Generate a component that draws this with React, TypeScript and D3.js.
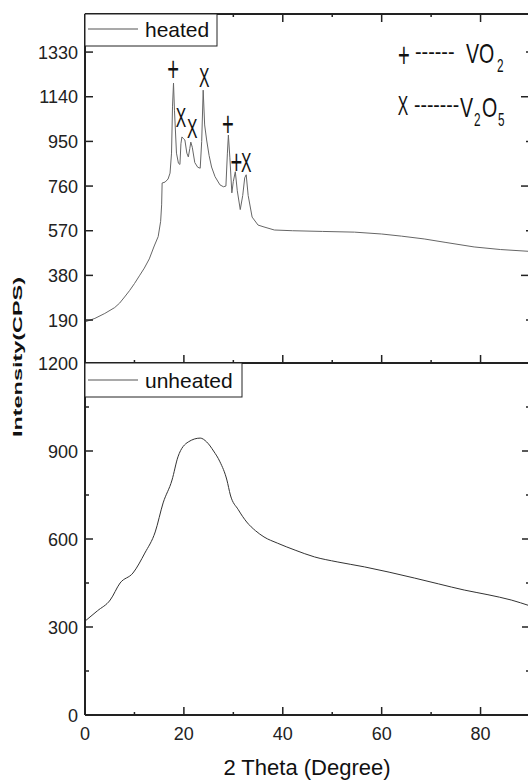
import React from "react";
import * as d3 from "d3";

// heated sample (top panel)
const heatedTheta = [
  0, 2, 4, 6, 7, 8, 9, 10, 11, 12, 13, 14, 14.8, 15.3, 15.5, 15.6, 16.2, 16.8, 17.2, 17.5,
  17.7, 17.9, 18.1, 18.5, 18.9, 19.2, 19.4, 19.6, 19.9, 20.2, 20.6, 20.9, 21.2, 21.4, 21.7,
  22.2, 22.8, 23.3, 23.6, 23.9, 24.2, 24.6, 25.1, 25.6, 26.3, 27.3, 28.0, 28.5, 28.8, 29.0,
  29.3, 29.7, 30.0, 30.4, 30.8, 31.4, 31.9, 32.3, 32.6, 33.0, 33.8, 35.0, 36.2, 38.3, 42,
  48, 54.5, 60, 64, 68.6, 73, 78.7, 84, 90,
];
const heatedIntensity = [
  182, 197, 218, 243, 262, 288, 315, 345, 378, 411, 450, 505, 545, 610, 680, 773, 777, 790,
  815, 900, 1100, 1198, 1080, 900, 857, 852, 940, 969, 962, 956, 900, 884, 920, 947, 925,
  860, 840, 836, 950, 1168, 1020, 956, 890, 841, 800, 765, 757, 760, 900, 977, 880, 731,
  780, 821, 740, 660, 720, 795, 808, 720, 628, 594, 586, 573, 570, 567, 564, 556, 547, 535,
  520, 501, 490, 482,
];

// unheated sample (bottom panel)
const unheatedTheta = [
  0, 2.5, 5.1, 7.1, 9.7, 12.1, 14.2, 15.8, 17.6, 18.8, 20.9, 23.3, 24.6, 26, 27.3, 28.7,
  29.4, 31, 32.7, 34.5, 36.2, 38.9, 42.5, 46.4, 51, 56.5, 61.5, 66.6, 71.5, 76.7, 81.5,
  86.2, 90,
];
const unheatedIntensity = [
  320, 355, 392, 450, 484, 552, 624, 723, 801, 880, 931, 944, 931, 900, 863, 801, 750, 700,
  658, 628, 607, 586, 562, 539, 522, 505, 487, 467, 447, 426, 410, 392, 372,
];

// peak assignments on the heated pattern
const peakTheta = [17.8, 19.4, 21.7, 24.1, 28.9, 30.6, 32.6];
const peakLevel = [1266, 1054, 1007, 1224, 1032, 871, 862];
const peakPhase = ["+", "X", "X", "X", "+", "+", "X"];

const xMajor = [0, 20, 40, 60, 80];
const xMinor = [10, 30, 50, 70];
const topMajorLeft = [190, 380, 570, 760, 950, 1140, 1330];
const bottomMajor = [0, 300, 600, 900, 1200];
const bottomMinor = [150, 450, 750, 1050];

const LEFT = 85;
const RIGHT = 530;
const TOP = 14;
const MID = 363;
const BOTTOM = 715;
const AXIS = "#222";

function Narrow({ x, y, size, children, anchor = "middle", sx = 0.58, sy = 1 }: any) {
  return (
    <text
      transform={`translate(${x},${y}) scale(${sx},${sy})`}
      fontSize={size}
      textAnchor={anchor}
      fontFamily="Liberation Sans, Arial, sans-serif"
      fill="#111"
    >
      {children}
    </text>
  );
}

// a phase symbol centred on (cx, cy)
function Mark({ cx, cy, sym }: any) {
  if (sym === "+") {
    return (
      <Narrow x={cx} y={cy + 14} size={28} sx={0.72} sy={1.25}>
        +
      </Narrow>
    );
  }
  return (
    <Narrow x={cx} y={cy + 10} size={28} sx={0.56}>
      X
    </Narrow>
  );
}

export default function App() {
  const x = d3.scaleLinear().domain([0, 90]).range([LEFT, RIGHT]);
  const yTop = d3.scaleLinear().domain([0, 1492]).range([364.7, TOP]);
  const yBot = d3.scaleLinear().domain([0, 1200]).range([BOTTOM, MID]);

  const heated = d3.zip(heatedTheta, heatedIntensity) as [number, number][];
  const unheated = d3.zip(unheatedTheta, unheatedIntensity) as [number, number][];

  const lineTop = d3
    .line<[number, number]>()
    .x((d) => x(d[0]))
    .y((d) => yTop(d[1]));
  const lineBot = d3
    .line<[number, number]>()
    .x((d) => x(d[0]))
    .y((d) => yBot(d[1]))
    .curve(d3.curveMonotoneX);

  const font = "Liberation Sans, Arial, sans-serif";
  const topRight = d3.range(190, 1491, 190);

  return (
    <svg width={528} height={780} style={{ position: "absolute", left: 0, top: 0 }}>
      <rect width={528} height={780} fill="#fff" />

      {/* curves */}
      <path d={lineTop(heated) || ""} fill="none" stroke="#666" strokeWidth={1} />
      <path d={lineBot(unheated) || ""} fill="none" stroke="#333" strokeWidth={1} />

      {/* frame */}
      <line x1={LEFT} x2={RIGHT} y1={TOP} y2={TOP} stroke={AXIS} strokeWidth={2} />
      <line x1={LEFT} x2={RIGHT} y1={MID} y2={MID} stroke={AXIS} strokeWidth={2} />
      <line x1={LEFT} x2={RIGHT} y1={BOTTOM} y2={BOTTOM} stroke={AXIS} strokeWidth={2} />
      <line x1={LEFT} x2={LEFT} y1={TOP} y2={BOTTOM} stroke={AXIS} strokeWidth={2} />
      <line x1={RIGHT} x2={RIGHT} y1={TOP} y2={BOTTOM} stroke={AXIS} strokeWidth={2} />

      {/* x ticks on three horizontal axes */}
      {[...xMajor.map((v) => [v, 8]), ...xMinor.map((v) => [v, 3])].map(([v, len]) => (
        <g key={`xt${v}`}>
          <line x1={x(v)} x2={x(v)} y1={TOP} y2={TOP + len} stroke={AXIS} strokeWidth={1.5} />
          <line x1={x(v)} x2={x(v)} y1={MID} y2={MID - len} stroke={AXIS} strokeWidth={1.5} />
          <line x1={x(v)} x2={x(v)} y1={BOTTOM} y2={BOTTOM - len} stroke={AXIS} strokeWidth={1.5} />
        </g>
      ))}
      {xMajor.map((v) => (
        <text key={`xl${v}`} x={x(v)} y={740} fontSize={18} textAnchor="middle" fontFamily={font} fill="#222">
          {v}
        </text>
      ))}

      {/* top panel y ticks */}
      {topMajorLeft.map((v) => (
        <g key={`tl${v}`}>
          <line x1={LEFT} x2={LEFT + 8} y1={yTop(v)} y2={yTop(v)} stroke={AXIS} strokeWidth={1.5} />
          <text x={78} y={yTop(v) + 6.5} fontSize={18} textAnchor="end" fontFamily={font} fill="#222">
            {v}
          </text>
        </g>
      ))}
      {topRight.map((v) => (
        <line
          key={`tr${v}`}
          x1={RIGHT}
          x2={RIGHT - (v % 380 === 0 ? 9 : 4)}
          y1={yTop(v)}
          y2={yTop(v)}
          stroke={AXIS}
          strokeWidth={1.5}
        />
      ))}

      {/* bottom panel y ticks */}
      {bottomMajor.map((v) => (
        <g key={`bl${v}`}>
          <line x1={LEFT} x2={LEFT + 8} y1={yBot(v)} y2={yBot(v)} stroke={AXIS} strokeWidth={1.5} />
          <line x1={RIGHT} x2={RIGHT - 8} y1={yBot(v)} y2={yBot(v)} stroke={AXIS} strokeWidth={1.5} />
          <text x={78} y={yBot(v) + 6.5} fontSize={18} textAnchor="end" fontFamily={font} fill="#222">
            {v}
          </text>
        </g>
      ))}
      {bottomMinor.map((v) => (
        <g key={`bm${v}`}>
          <line x1={LEFT} x2={LEFT + 4} y1={yBot(v)} y2={yBot(v)} stroke={AXIS} strokeWidth={1.5} />
          <line x1={RIGHT} x2={RIGHT - 4} y1={yBot(v)} y2={yBot(v)} stroke={AXIS} strokeWidth={1.5} />
        </g>
      ))}

      {/* legends */}
      <rect x={LEFT} y={TOP} width={132} height={32} fill="#fff" stroke="#222" strokeWidth={1} />
      <line x1={88} x2={138} y1={29} y2={29} stroke="#555" strokeWidth={1.2} />
      <text x={145} y={37} fontSize={21} fontFamily={font} fill="#111">heated</text>

      <rect x={LEFT} y={MID} width={157} height={34} fill="#fff" stroke="#222" strokeWidth={1} />
      <line x1={88} x2={138} y1={380} y2={380} stroke="#555" strokeWidth={1.2} />
      <text x={145} y={388} fontSize={21} fontFamily={font} fill="#111">unheated</text>

      {/* peak markers */}
      {peakTheta.map((t, i) => (
        <Mark key={`pk${i}`} cx={x(t)} cy={yTop(peakLevel[i])} sym={peakPhase[i]} />
      ))}

      {/* phase key */}
      <Mark cx={404} cy={53} sym="+" />
      <Narrow x={415} y={59} size={22} anchor="start" sx={0.9}>------</Narrow>
      <Narrow x={466} y={63} size={28} anchor="start" sx={0.7}>VO</Narrow>
      <Narrow x={497} y={72} size={19} anchor="start" sx={0.62}>2</Narrow>

      <Mark cx={403} cy={105} sym="X" />
      <Narrow x={414} y={112} size={22} anchor="start" sx={0.88}>-------</Narrow>
      <Narrow x={460} y={117} size={28} anchor="start" sx={0.7}>V</Narrow>
      <Narrow x={474} y={126} size={19} anchor="start" sx={0.62}>2</Narrow>
      <Narrow x={482} y={117} size={28} anchor="start" sx={0.7}>O</Narrow>
      <Narrow x={498} y={126} size={19} anchor="start" sx={0.62}>5</Narrow>

      {/* axis titles */}
      <text x={307} y={775} fontSize={22} textAnchor="middle" fontFamily={font} fill="#111">
        2 Theta (Degree)
      </text>
      <text
        transform="translate(22,357) rotate(-90)"
        fontSize={13}
        fontWeight="bold"
        textAnchor="middle"
        fontFamily={font}
        textLength={160}
        lengthAdjust="spacingAndGlyphs"
        fill="#111"
      >
        Intensity(CPS)
      </text>
    </svg>
  );
}
